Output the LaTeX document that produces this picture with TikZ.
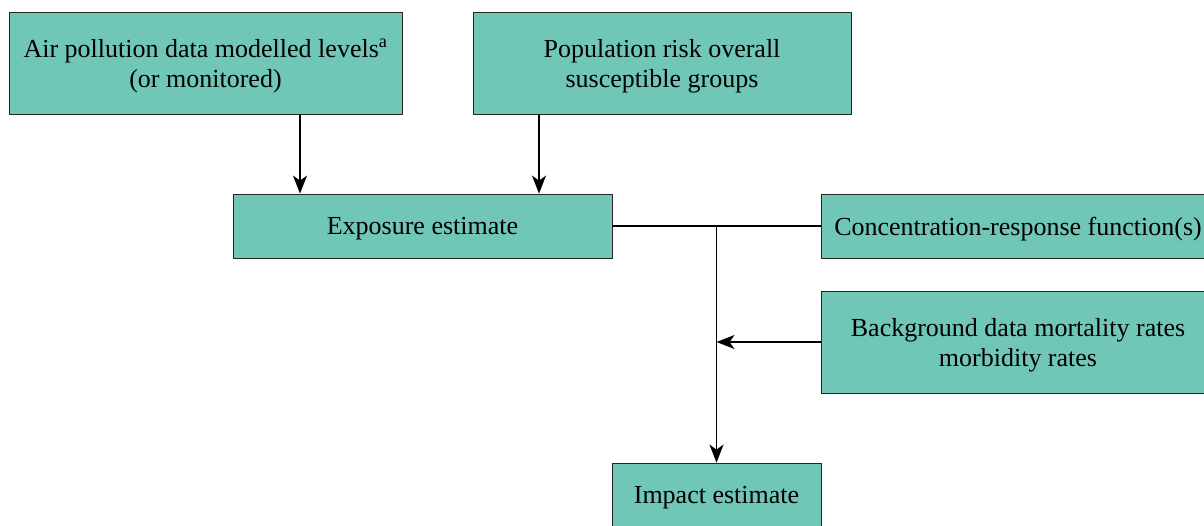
\documentclass[tikz,border=0pt]{standalone}
\usepackage{fontspec}
\setmainfont{Liberation Serif}
\usepackage{xcolor}
\usetikzlibrary{arrows.meta,positioning,calc}
\definecolor{boxfill}{RGB}{112,199,183}

\begin{document}
\begin{tikzpicture}[
    x=1pt,y=-1pt,
    every node/.style={font=\fontsize{26}{30}\selectfont},
    box/.style={draw=black!85,line width=0.8pt,fill=boxfill,inner sep=0pt,text depth=0pt,align=center},
    link/.style={line width=1.8pt},
    arr/.style={link,-{Stealth[length=18pt,width=14pt,inset=5pt]}}
]
\useasboundingbox (0,0) rectangle (1204,525);
\node[box,minimum width=393pt,minimum height=102pt] (air)    at (205.5,63)  {Air pollution data modelled levels\textsuperscript{a}\\(or monitored)};
\node[box,minimum width=378pt,minimum height=102pt] (pop)    at (662,63)    {Population risk overall\\susceptible groups};
\node[box,minimum width=379pt,minimum height=64pt]  (expo)   at (422.5,226) {Exposure estimate};
\node[box,minimum width=394pt,minimum height=64pt]  (crf)    at (1018,226)  {Concentration-response function(s)};
\node[box,minimum width=394pt,minimum height=102pt] (bg)     at (1018,342)  {Background data mortality rates\\morbidity rates};
\node[box,minimum width=209pt,minimum height=64pt]  (impact) at (716.5,495) {Impact estimate};

\coordinate (jn) at (impact.north |- expo.east);
\draw[arr] ([xshift=94.5pt]air.south) -- ([xshift=94.5pt]air.south |- expo.north);
\draw[arr] ([xshift=-123pt]pop.south) -- ([xshift=-123pt]pop.south |- expo.north);
\draw[link] (expo.east) -- (crf.west);
\draw[arr] (jn) -- (impact.north);
\draw[arr] (bg.west) -- (jn |- bg.west);
\end{tikzpicture}
\end{document}
